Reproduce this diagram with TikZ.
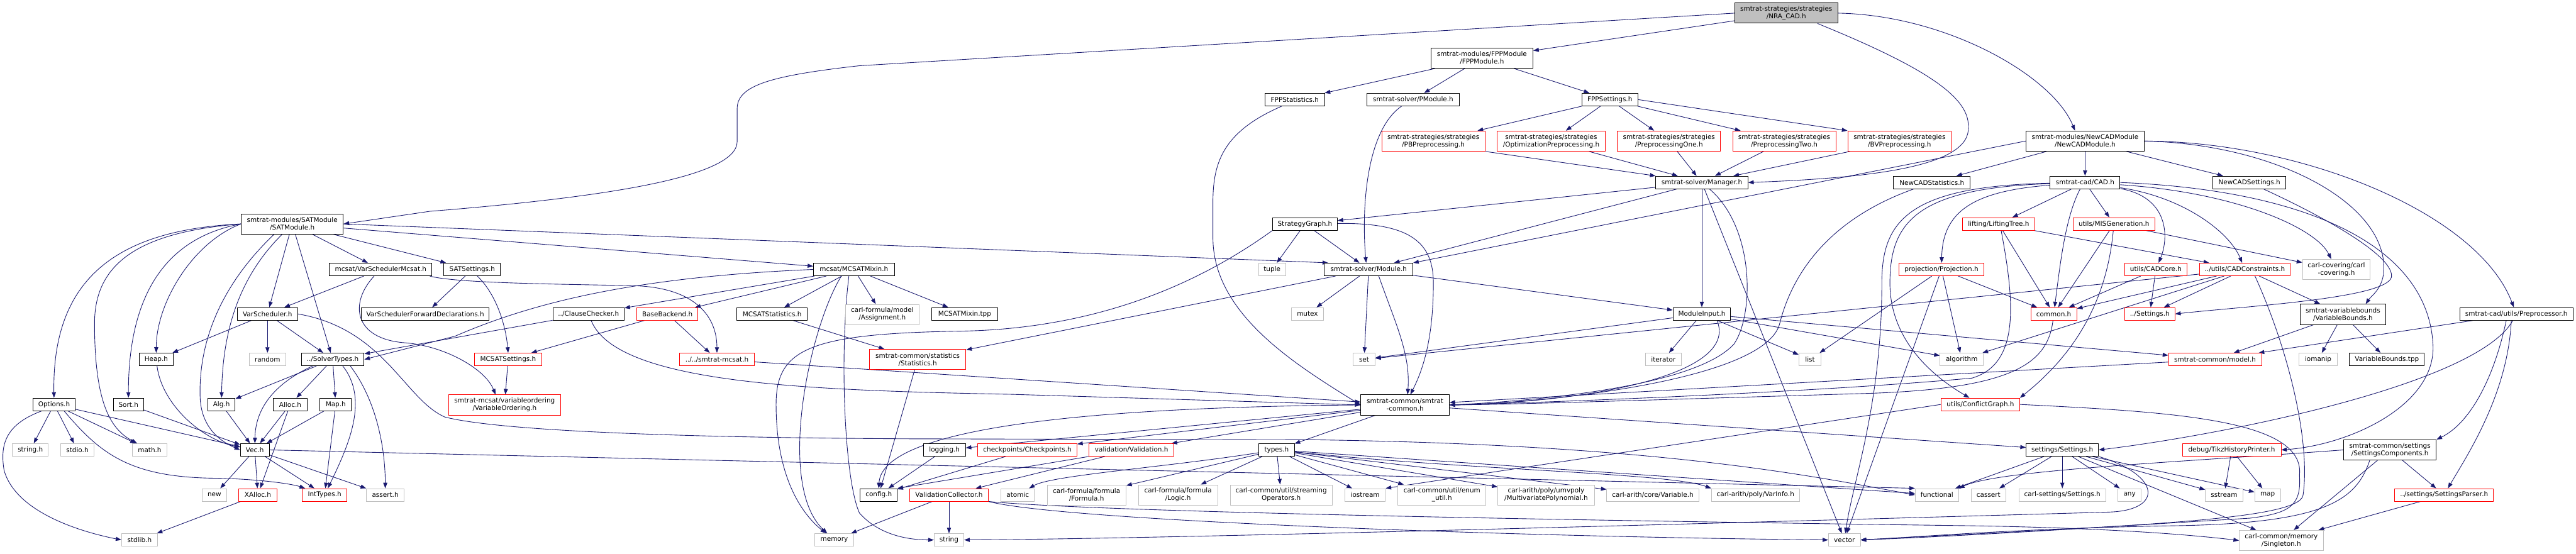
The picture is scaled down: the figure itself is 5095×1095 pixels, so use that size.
\documentclass[tikz,border=0pt]{standalone}
\usepackage{fontspec}
\setmainfont{DejaVu Sans}
\usetikzlibrary{arrows.meta}
\definecolor{ec}{HTML}{191970}
\definecolor{gb}{HTML}{BFBFBF}
\definecolor{rb}{HTML}{FF0000}
\pgfdeclarelayer{bg}
\pgfsetlayers{bg,main}
\begin{document}
\begin{tikzpicture}[x=1pt,y=-1pt,
 box/.style={fill=white,inner sep=0pt,minimum height=25pt,align=center,font=\fontsize{13}{15}\selectfont},
 nb/.style={box,draw=black,line width=1.2pt},
 nr/.style={box,draw=rb,line width=1.1pt},
 ng/.style={box,draw=gb,line width=1.1pt},
 tl/.style={minimum height=40pt},
 e/.style={draw=ec,line width=1.1pt,-{Triangle[length=11pt,width=8pt]}}]
\begin{pgfonlayer}{bg}
\fill[white] (0,0) rectangle (5095,1095);
\end{pgfonlayer}
\useasboundingbox (0,0) rectangle (5095,1095);
% row 0-2
\node[nb,tl,fill=gb,minimum width=204pt] (nra) at (3533,26) {smtrat-strategies/strategies\\/NRA\_CAD.h};
\node[nb,tl,minimum width=202pt] (fppm) at (2931,115) {smtrat-modules/FPPModule\\/FPPModule.h};
\node[nb,minimum width=118pt] (fppst) at (2561,197) {FPPStatistics.h};
\node[nb,minimum width=183pt] (pmod) at (2795,197) {smtrat-solver/PModule.h};
\node[nb,minimum width=111pt] (fppset) at (3184,197) {FPPSettings.h};
% row 3
\node[nr,tl,minimum width=204pt] (pb) at (2835,279) {smtrat-strategies/strategies\\/PBPreprocessing.h};
\node[nr,tl,minimum width=213pt] (opt) at (3068,279) {smtrat-strategies/strategies\\/OptimizationPreprocessing.h};
\node[nr,tl,minimum width=204pt] (one) at (3301,279) {smtrat-strategies/strategies\\/PreprocessingOne.h};
\node[nr,tl,minimum width=204pt] (two) at (3529,279) {smtrat-strategies/strategies\\/PreprocessingTwo.h};
\node[nr,tl,minimum width=205pt] (bv) at (3757,279) {smtrat-strategies/strategies\\/BVPreprocessing.h};
\node[nb,tl,minimum width=234pt] (ncm) at (4124,279) {smtrat-modules/NewCADModule\\/NewCADModule.h};
% row 4
\node[nb,minimum width=182pt] (mgr) at (3366,361) {smtrat-solver/Manager.h};
\node[nb,minimum width=152pt] (ncst) at (3821,361) {NewCADStatistics.h};
\node[nb,minimum width=138pt] (cad) at (4124,361) {smtrat-cad/CAD.h};
\node[nb,minimum width=144pt] (ncset) at (4449,361) {NewCADSettings.h};
% row 5
\node[nb,tl,minimum width=202pt] (sat) at (578,443) {smtrat-modules/SATModule\\/SATModule.h};
\node[nb,minimum width=128pt] (sg) at (2581,443) {StrategyGraph.h};
\node[nr,minimum width=143pt] (lt) at (3953,443) {lifting/LiftingTree.h};
\node[nr,minimum width=162pt] (mis) at (4181,443) {utils/MISGeneration.h};
% row 6
\node[nb,minimum width=203pt] (vsm) at (753,533) {mcsat/VarSchedulerMcsat.h};
\node[nb,minimum width=112pt] (satset) at (934,533) {SATSettings.h};
\node[nb,minimum width=160pt] (mix) at (1689,533) {mcsat/MCSATMixin.h};
\node[ng,minimum width=54pt] (tuple) at (2516,533) {tuple};
\node[nb,minimum width=175pt] (mod) at (2707,533) {smtrat-solver/Module.h};
\node[nr,minimum width=168pt] (proj) at (3840,533) {projection/Projection.h};
\node[nr,minimum width=124pt] (core) at (4264,533) {utils/CADCore.h};
\node[nr,minimum width=180pt] (cons) at (4440,533) {../utils/CADConstraints.h};
\node[ng,tl,minimum width=134pt] (cov) at (4621,533) {carl-covering/carl\\-covering.h};
% row 7
\node[nb,minimum width=119pt] (vs) at (529,621) {VarScheduler.h};
\node[nb,minimum width=253pt] (vsfd) at (841,621) {VarSchedulerForwardDeclarations.h};
\node[nb,minimum width=141pt] (cc) at (1164,621) {../ClauseChecker.h};
\node[nr,minimum width=121pt] (bb) at (1320,621) {BaseBackend.h};
\node[nb,minimum width=139pt] (mst) at (1527,621) {MCSATStatistics.h};
\node[ng,tl,minimum width=146pt] (asg) at (1745,622) {carl-formula/model\\/Assignment.h};
\node[nb,minimum width=130pt] (tpp) at (1908,621) {MCSATMixin.tpp};
\node[ng,minimum width=64pt] (mutex) at (2586,621) {mutex};
\node[nb,minimum width=114pt] (mi) at (3366,621) {ModuleInput.h};
\node[nr,minimum width=91pt] (comm) at (4062,621) {common.h};
\node[nr,minimum width=99pt] (cset) at (4252,621) {../Settings.h};
\node[nb,tl,minimum width=169pt] (vb) at (4634,622) {smtrat-variablebounds\\/VariableBounds.h};
\node[nb,minimum width=224pt] (pre) at (4977,621) {smtrat-cad/utils/Preprocessor.h};
% row 8
\node[nb,minimum width=68pt] (heap) at (309,711) {Heap.h};
\node[ng,minimum width=72pt] (random) at (529,711) {random};
\node[nb,minimum width=124pt] (st) at (658,711) {../SolverTypes.h};
\node[nr,minimum width=134pt] (mset) at (1005,711) {MCSATSettings.h};
\node[nr,minimum width=147pt] (mcsat) at (1418,711) {../../smtrat-mcsat.h};
\node[nr,tl,minimum width=191pt] (stat) at (1815,711) {smtrat-common/statistics\\/Statistics.h};
\node[ng,minimum width=43pt] (set) at (2698,711) {set};
\node[ng,minimum width=71pt] (iter) at (3290,711) {iterator};
\node[ng,minimum width=44pt] (list) at (3580,711) {list};
\node[ng,minimum width=86pt] (algo) at (3880,711) {algorithm};
\node[nr,minimum width=184pt] (model) at (4381,711) {smtrat-common/model.h};
\node[ng,minimum width=75pt] (iomanip) at (4585,711) {iomanip};
\node[nb,minimum width=148pt] (vbtpp) at (4721,711) {VariableBounds.tpp};
% row 9
\node[nb,minimum width=84pt] (opts) at (107,800) {Options.h};
\node[nb,minimum width=60pt] (sort) at (254,800) {Sort.h};
\node[nb,minimum width=54pt] (alg) at (438,800) {Alg.h};
\node[nb,minimum width=66pt] (alloc) at (574,800) {Alloc.h};
\node[nb,minimum width=62pt] (map) at (664,800) {Map.h};
\node[nr,tl,minimum width=222pt] (vo) at (998,801) {smtrat-mcsat/variableordering\\/VariableOrdering.h};
\node[nb,tl,minimum width=175pt] (sc) at (2779,801) {smtrat-common/smtrat\\-common.h};
\node[nr,minimum width=155pt] (cg) at (3917,800) {utils/ConflictGraph.h};
% row 10
\node[ng,minimum width=71pt] (strh) at (60,890) {string.h};
\node[ng,minimum width=66pt] (stdio) at (153,890) {stdio.h};
\node[ng,minimum width=68pt] (math) at (296,890) {math.h};
\node[nb,minimum width=57pt] (vec) at (504,890) {Vec.h};
\node[nb,minimum width=83pt] (log) at (1868,890) {logging.h};
\node[nr,minimum width=196pt] (chk) at (2032,890) {checkpoints/Checkpoints.h};
\node[nr,minimum width=168pt] (val) at (2238,890) {validation/Validation.h};
\node[nb,minimum width=70pt] (types) at (2525,890) {types.h};
\node[nb,minimum width=143pt] (sets) at (4079,890) {settings/Settings.h};
\node[nr,minimum width=195pt] (tikz) at (4414,890) {debug/TikzHistoryPrinter.h};
\node[nb,tl,minimum width=183pt] (scomp) at (4727,890) {smtrat-common/settings\\/SettingsComponents.h};
% row 11
\node[ng,minimum width=48pt] (new) at (424,979) {new};
\node[nr,minimum width=75pt] (xalloc) at (510,979) {XAlloc.h};
\node[nr,minimum width=88pt] (int) at (642,979) {IntTypes.h};
\node[ng,minimum width=75pt] (assert) at (762,979) {assert.h};
\node[nb,minimum width=73pt] (config) at (1738,979) {config.h};
\node[nr,minimum width=156pt] (vcoll) at (1877,979) {ValidationCollector.h};
\node[ng,minimum width=66pt] (atomic) at (2013,979) {atomic};
\node[ng,tl,minimum width=156pt] (formula) at (2149,979) {carl-formula/formula\\/Formula.h};
\node[ng,tl,minimum width=157pt] (logic) at (2330,979) {carl-formula/formula\\/Logic.h};
\node[ng,tl,minimum width=202pt] (stream) at (2534,979) {carl-common/util/streaming\\Operators.h};
\node[ng,minimum width=80pt] (iostream) at (2700,979) {iostream};
\node[ng,tl,minimum width=174pt] (enum) at (2852,979) {carl-common/util/enum\\\_util.h};
\node[ng,tl,minimum width=191pt] (mvp) at (3058,979) {carl-arith/poly/umvpoly\\/MultivariatePolynomial.h};
\node[ng,minimum width=182pt] (var) at (3269,979) {carl-arith/core/Variable.h};
\node[ng,minimum width=174pt] (varinfo) at (3472,979) {carl-arith/poly/VarInfo.h};
\node[ng,minimum width=86pt] (functional) at (3831,979) {functional};
\node[ng,minimum width=69pt] (cassert) at (3933,979) {cassert};
\node[ng,minimum width=171pt] (carlset) at (4079,979) {carl-settings/Settings.h};
\node[ng,minimum width=46pt] (any) at (4212,979) {any};
\node[ng,minimum width=74pt] (sstream) at (4399,979) {sstream};
\node[ng,minimum width=51pt] (map2) at (4485,979) {map};
\node[nr,minimum width=195pt] (parser) at (4834,979) {../settings/SettingsParser.h};
% row 12
\node[ng,minimum width=71pt] (stdlib) at (276,1068) {stdlib.h};
\node[ng,minimum width=77pt] (memory) at (1650,1068) {memory};
\node[ng,minimum width=59pt] (string) at (1877,1068) {string};
\node[ng,minimum width=63pt] (vector) at (3648,1068) {vector};
\node[ng,tl,minimum width=166pt] (single) at (4512,1069) {carl-common/memory\\/Singleton.h};

\begin{pgfonlayer}{bg}
\foreach \a/\b in {nra/fppm, fppm/fppst, fppm/pmod, fppm/fppset, fppset/pb, fppset/opt, fppset/one, fppset/two,
 opt/mgr, one/mgr, two/mgr, bv/mgr, mgr/sg, mgr/mod, mgr/mi, mgr/vector, sg/tuple, sg/mod,
 ncm/ncst, ncm/cad, ncm/ncset, cad/lt, cad/mis,
 lt/comm, lt/cons, mis/comm, mis/cov, proj/list, proj/vector, proj/algo, proj/comm,
 core/comm, core/cset, cons/comm, cons/cset, cons/set, cons/algo, cons/vb,
 vb/model, vb/iomanip, vb/vbtpp, pre/model, scomp/parser, scomp/single, parser/single, tikz/sstream, tikz/map2, model/sc,
 mod/mutex, mod/set, mod/mi, mod/stat, mi/set, mi/iter, mi/list, mi/algo, mi/model,
 sc/log, sc/chk, sc/val, sc/types, sc/sets,
 types/formula, types/logic, types/stream, types/iostream, types/enum, types/mvp, types/var, types/functional,
 log/config, chk/config, val/vcoll, stat/config, vcoll/string, vcoll/memory,
 sets/functional, sets/cassert, sets/carlset, sets/any, sets/sstream, sets/map2, sets/single,
 sat/vs, sat/st, sat/vsm, sat/satset, sat/mix, vsm/vs, satset/vsfd,
 mix/cc, mix/bb, mix/mst, mix/asg, mix/tpp, bb/mset, bb/mcsat, mset/vo, cc/st, mcsat/sc, mst/stat,
 vs/heap, vs/random, vs/st, st/alg, st/alloc, st/map,
 opts/strh, opts/stdio, opts/math, opts/vec,
 sort/vec, alg/vec, alloc/vec, alloc/xalloc, map/vec, map/int,
 vec/new, vec/xalloc, vec/int, vec/assert, xalloc/stdlib}
 {\draw[e] (\a) -- (\b);}
% anchored straight edges
\draw[e] (pb.south east) -- (mgr.north west);
\draw[e] (fppset.east) -- (bv.north west);
\draw[e] (sat.east) -- ([xshift=8pt]mod.north west);
\draw[e] (ncm.west) -- (mod.north east);
\draw[e] (cg.west) -- (iostream.north east);
\draw[e] (vec.east) -- (functional.north west);
\draw[e] (val.south west) -- (config.north east);
% curved edges
\draw[e] (nra.west) -- (1700,130) .. controls (1520,150) and (1458,170) .. (1458,215) -- (1458,280) .. controls (1458,350) and (1200,390) .. (850,418) -- (sat.east);
\draw[e] ([xshift=62pt]nra.south) .. controls (3800,130) and (3895,190) .. (3893,250) .. controls (3900,330) and (3700,352) .. (mgr.east);
\draw[e] (nra.east) .. controls (3850,30) and (4060,150) .. ([xshift=-20pt]ncm.north);
\draw[e] ([xshift=-26pt]fppst.south) .. controls (2420,260) and (2399,320) .. (2399,400) -- (2399,470) .. controls (2399,620) and (2560,720) .. (sc.west);
\draw[e] ([xshift=-23pt]pmod.south) .. controls (2700,260) and (2693,420) .. ([xshift=-5pt]mod.north);
\draw[e] (mgr) .. controls (3470,450) and (3470,620) .. (3430,680) .. controls (3350,770) and (3000,795) .. (sc.east);
\draw[e] (ncst) .. controls (3600,440) and (3540,560) .. (3520,640) .. controls (3490,760) and (3000,800) .. (sc.east);
\draw[e] (sg) .. controls (2790,440) and (2835,480) .. (2835,560) .. controls (2835,680) and (2810,740) .. (sc);
\draw[e] ([xshift=20pt]mod.south) .. controls (2760,640) and (2790,700) .. ([xshift=5pt]sc.north);
\draw[e] ([xshift=30pt]mi.south) .. controls (3440,740) and (3150,795) .. (sc.east);
\draw[e] ([xshift=5pt]lt.south) .. controls (3985,600) and (3995,720) .. (3900,748) .. controls (3600,775) and (3100,795) .. (sc.east);
\draw[e] (comm) .. controls (4050,720) and (3980,768) .. (3700,778) .. controls (3300,790) and (3000,800) .. (sc.east);
\draw[e] (cad) .. controls (4290,390) and (4290,470) .. (core);
\draw[e] (cad) .. controls (4320,390) and (4410,460) .. (cons);
\draw[e] (cad) .. controls (4420,380) and (4580,450) .. (cov);
\draw[e] ([xshift=-10pt]cad.south) .. controls (4085,430) and (4075,520) .. (comm);
\draw[e] (cad) .. controls (3900,378) and (3842,420) .. (proj);
\draw[e] (cad) .. controls (3790,372) and (3738,440) .. (3738,560) .. controls (3738,690) and (3850,760) .. (cg);
\draw[e] (cad) .. controls (3770,368) and (3722,440) .. (3722,560) .. controls (3722,800) and (3665,950) .. (vector);
\draw[e] (cad.east) .. controls (4550,375) and (4800,480) .. (4812,680) .. controls (4820,800) and (4650,880) .. (tikz.east);
\draw[e] (ncm.east) .. controls (4500,285) and (4715,400) .. (4715,530) .. controls (4715,570) and (4690,585) .. ([xshift=45pt]vb.north);
\draw[e] (ncm.east) .. controls (4550,280) and (4900,420) .. (pre);
\draw[e] (ncset) .. controls (4620,440) and (4735,510) .. (4730,548) .. controls (4720,590) and (4450,605) .. (cset.east);
\draw[e] (mis) .. controls (4170,560) and (4130,680) .. (cg.north east);
\draw[e] (pre) .. controls (4900,760) and (4400,860) .. (sets.east);
\draw[e] ([xshift=-20pt]pre.south) .. controls (4930,760) and (4880,840) .. (scomp.north east);
\draw[e] ([xshift=-10pt]pre.south) .. controls (4960,780) and (4880,900) .. (parser);
\draw[e] (scomp.west) .. controls (4300,915) and (3950,930) .. (functional.north east);
\draw[e] ([xshift=-40pt]scomp.south) .. controls (4660,990) and (4600,1035) .. (4300,1040) .. controls (4000,1045) and (3800,1062) .. (vector.east);
\draw[e] ([xshift=20pt]cons.south) .. controls (4530,700) and (4570,880) .. (4555,980) .. controls (4545,1030) and (4200,1040) .. (vector.east);
\draw[e] (cg.east) .. controls (4300,815) and (4560,830) .. (4548,940) .. controls (4552,1000) and (4530,1015) .. (4450,1025) .. controls (4200,1040) and (3900,1060) .. (vector.east);
\draw[e] (sets.south east) .. controls (4275,940) and (4280,1010) .. (4170,1013) .. controls (3400,1035) and (2300,1066) .. (string.east);
\draw[e] (vcoll.south east) .. controls (2100,1030) and (3000,1062) .. (vector.west);
\draw[e] (vcoll.south east) .. controls (2200,1015) and (3300,1032) .. (3900,1040) .. controls (4200,1045) and (4350,1060) .. (single.west);
\draw[e] (types) .. controls (2300,925) and (2080,940) .. (atomic);
\draw[e] (types) .. controls (2900,930) and (3300,935) .. (varinfo.north west);
\draw[e] (sc.west) .. controls (2200,805) and (1745,840) .. (config.north);
\draw[e] (cc) .. controls (1220,760) and (1600,772) .. (2000,780) -- (sc.west);
\draw[e] ([xshift=-25pt]mix.south) .. controls (1600,650) and (1535,960) .. (memory);
\draw[e] (sg.south west) .. controls (2400,540) and (2200,650) .. (1900,655) .. controls (1600,660) and (1535,690) .. (1535,800) .. controls (1535,950) and (1590,1020) .. (memory);
\draw[e] ([xshift=-10pt]mix.south) .. controls (1660,700) and (1670,950) .. (1700,1015) .. controls (1740,1060) and (1800,1068) .. (string.west);
\draw[e] (mix.west) .. controls (1250,548) and (1050,600) .. (900,665) -- (st.east);
\draw[e] ([xshift=-5pt]vsm.south east) .. controls (900,560) and (1100,562) .. (1250,565) .. controls (1380,568) and (1418,630) .. (mcsat);
\draw[e] ([xshift=-13pt]vsm.south) .. controls (690,600) and (700,670) .. (800,678) .. controls (880,684) and (960,730) .. ([xshift=-18pt]vo.north);
\draw[e] ([xshift=10pt]satset.south) .. controls (980,580) and (1000,640) .. (mset.north);
\draw[e] (vs.east) .. controls (760,650) and (800,790) .. (880,825) .. controls (1000,855) and (1400,866) .. (1800,868) -- (2600,870) .. controls (3300,880) and (3600,945) .. (functional.west);
\draw[e] (sat.west) .. controls (220,455) and (103,560) .. (opts);
\draw[e] (sat.west) .. controls (260,460) and (187,530) .. (187,640) .. controls (187,800) and (220,850) .. (math);
\draw[e] (sat.west) .. controls (330,470) and (254,580) .. (sort);
\draw[e] (sat.west) .. controls (380,480) and (309,600) .. (heap);
\draw[e] ([xshift=-36pt]sat.south) .. controls (420,580) and (392,700) .. (396,790) .. controls (400,850) and (440,875) .. (vec.west);
\draw[e] ([xshift=-20pt]sat.south) .. controls (460,560) and (440,680) .. (alg);
\draw[e] (heap) .. controls (320,800) and (400,870) .. (vec);
\draw[e] ([xshift=20pt]opts.south) .. controls (200,900) and (260,945) .. (430,946) .. controls (520,948) and (580,958) .. (int);
\draw[e] ([xshift=-25pt]opts.south) .. controls (10,840) and (0,880) .. (8,930) .. controls (30,1010) and (150,1050) .. (stdlib.west);
\draw[e] ([xshift=-40pt]st.south) .. controls (540,760) and (505,810) .. (vec);
\draw[e] ([xshift=20pt]st.south) .. controls (730,790) and (690,880) .. (int);
\draw[e] ([xshift=35pt]st.south) .. controls (750,800) and (762,900) .. (assert);
\end{pgfonlayer}
\end{tikzpicture}
\end{document}
